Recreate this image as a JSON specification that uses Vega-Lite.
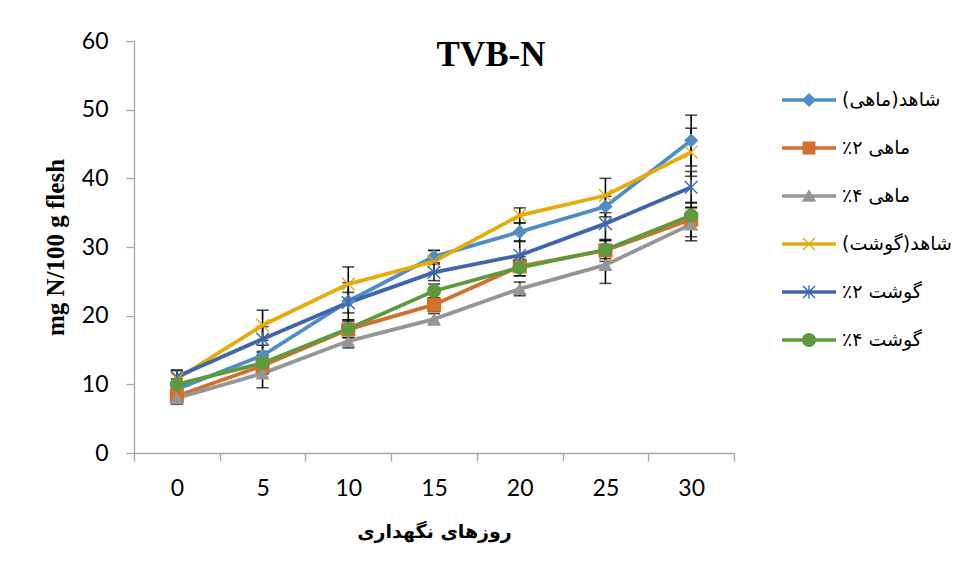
{
  "$schema": "https://vega.github.io/schema/vega-lite/v6.json",
  "width": 600,
  "height": 412,
  "autosize": {"type": "none"},
  "padding": {"left": 134, "top": 41, "right": 224, "bottom": 127},
  "background": "white",
  "config": {
    "view": {"stroke": null},
    "axis": {
      "grid": false,
      "domainColor": "#a6a6a6",
      "tickColor": "#a6a6a6",
      "domainWidth": 1.3,
      "tickWidth": 1.3,
      "tickSize": 8,
      "labelFont": "Lato",
      "labelFontSize": 23,
      "labelColor": "black",
      "titleColor": "black"
    }
  },
  "title": {
    "text": "TVB-N",
    "font": "Liberation Serif",
    "fontSize": 35,
    "fontWeight": "bold",
    "color": "black",
    "anchor": "middle",
    "dx": 57,
    "dy": 47
  },
  "data": {
    "values": [
      {"series": "شاهد(ماهی)", "day": 0, "mean": 9.3, "sd": 0.8},
      {"series": "شاهد(ماهی)", "day": 5, "mean": 14.2, "sd": 1.5},
      {"series": "شاهد(ماهی)", "day": 10, "mean": 22.1, "sd": 2.7},
      {"series": "شاهد(ماهی)", "day": 15, "mean": 28.6, "sd": 0.9},
      {"series": "شاهد(ماهی)", "day": 20, "mean": 32.2, "sd": 1.3},
      {"series": "شاهد(ماهی)", "day": 25, "mean": 35.9, "sd": 1.5},
      {"series": "شاهد(ماهی)", "day": 30, "mean": 45.5, "sd": 3.7},
      {"series": "٪۲ ماهی", "day": 0, "mean": 8.3, "sd": 0.9},
      {"series": "٪۲ ماهی", "day": 5, "mean": 12.7, "sd": 1.2},
      {"series": "٪۲ ماهی", "day": 10, "mean": 18.0, "sd": 1.2},
      {"series": "٪۲ ماهی", "day": 15, "mean": 21.6, "sd": 1.0},
      {"series": "٪۲ ماهی", "day": 20, "mean": 27.2, "sd": 1.4},
      {"series": "٪۲ ماهی", "day": 25, "mean": 29.5, "sd": 1.6},
      {"series": "٪۲ ماهی", "day": 30, "mean": 34.0, "sd": 2.5},
      {"series": "٪۴ ماهی", "day": 0, "mean": 8.0, "sd": 0.9},
      {"series": "٪۴ ماهی", "day": 5, "mean": 11.6, "sd": 2.1},
      {"series": "٪۴ ماهی", "day": 10, "mean": 16.3, "sd": 1.0},
      {"series": "٪۴ ماهی", "day": 15, "mean": 19.5, "sd": 0.8},
      {"series": "٪۴ ماهی", "day": 20, "mean": 23.9, "sd": 1.0},
      {"series": "٪۴ ماهی", "day": 25, "mean": 27.4, "sd": 2.7},
      {"series": "٪۴ ماهی", "day": 30, "mean": 33.3, "sd": 2.4},
      {"series": "شاهد(گوشت)", "day": 0, "mean": 10.8, "sd": 1.2},
      {"series": "شاهد(گوشت)", "day": 5, "mean": 18.6, "sd": 2.2},
      {"series": "شاهد(گوشت)", "day": 10, "mean": 24.6, "sd": 2.5},
      {"series": "شاهد(گوشت)", "day": 15, "mean": 27.9, "sd": 1.6},
      {"series": "شاهد(گوشت)", "day": 20, "mean": 34.6, "sd": 1.1},
      {"series": "شاهد(گوشت)", "day": 25, "mean": 37.5, "sd": 2.5},
      {"series": "شاهد(گوشت)", "day": 30, "mean": 43.8, "sd": 3.5},
      {"series": "٪۲ گوشت", "day": 0, "mean": 11.1, "sd": 1.0},
      {"series": "٪۲ گوشت", "day": 5, "mean": 16.6, "sd": 1.8},
      {"series": "٪۲ گوشت", "day": 10, "mean": 21.9, "sd": 1.5},
      {"series": "٪۲ گوشت", "day": 15, "mean": 26.3, "sd": 1.2},
      {"series": "٪۲ گوشت", "day": 20, "mean": 28.8, "sd": 2.0},
      {"series": "٪۲ گوشت", "day": 25, "mean": 33.4, "sd": 2.4},
      {"series": "٪۲ گوشت", "day": 30, "mean": 38.7, "sd": 2.3},
      {"series": "٪۴ گوشت", "day": 0, "mean": 10.0, "sd": 0.8},
      {"series": "٪۴ گوشت", "day": 5, "mean": 13.1, "sd": 1.5},
      {"series": "٪۴ گوشت", "day": 10, "mean": 18.1, "sd": 1.3},
      {"series": "٪۴ گوشت", "day": 15, "mean": 23.6, "sd": 1.0},
      {"series": "٪۴ گوشت", "day": 20, "mean": 27.0, "sd": 1.2},
      {"series": "٪۴ گوشت", "day": 25, "mean": 29.6, "sd": 1.3},
      {"series": "٪۴ گوشت", "day": 30, "mean": 34.6, "sd": 1.2}
    ]
  },
  "resolve": {
    "scale": {"color": "independent", "shape": "independent"}
  },
  "layer": [
    {
      "mark": {"type": "errorbar", "color": "black", "thickness": 1.6, "ticks": {"size": 12, "thickness": 1.6, "color": "black"}},
      "encoding": {
        "x": {"field": "day", "type": "quantitative", "scale": {"domain": [-2.5, 32.5], "nice": false, "zero": false},
          "axis": {"values": [-2.5, 0, 2.5, 5, 7.5, 10, 12.5, 15, 17.5, 20, 22.5, 25, 27.5, 30, 32.5], "labelOverlap": false, "labelExpr": "datum.value % 5 == 0 ? datum.label : ''", "tickOpacity": {"condition": {"test": "datum.value % 5 != 0", "value": 1}, "value": 0}, "labelPadding": 16, "title": "روزهای نگهداری", "titleFont": "DejaVu Sans", "titleFontSize": 19, "titleFontWeight": "bold", "titlePadding": 22}},
        "y": {"field": "mean", "type": "quantitative", "scale": {"domain": [0, 60], "nice": false},
          "axis": {"values": [0, 10, 20, 30, 40, 50, 60], "title": "mg N/100 g flesh", "titleFont": "Liberation Serif", "titleFontSize": 25, "titleFontWeight": "bold", "titlePadding": 13, "labelPadding": 18}},
        "yError": {"field": "sd"},
        "detail": {"field": "series", "type": "nominal"}
      }
    },
    {
      "mark": {"type": "line", "strokeWidth": 3.8},
      "encoding": {
        "x": {"field": "day", "type": "quantitative"},
        "y": {"field": "mean", "type": "quantitative"},
        "color": {"field": "series", "type": "nominal", "legend": null,
          "scale": {"domain": ["شاهد(ماهی)", "٪۲ ماهی", "٪۴ ماهی", "شاهد(گوشت)", "٪۲ گوشت", "٪۴ گوشت"],
            "range": ["#4f8ec5", "#d4702d", "#969696", "#e5ac0e", "#3f65af", "#5e9a3c"]}}
      }
    },
    {
      "mark": {"type": "point", "filled": true, "opacity": 1, "size": 200},
      "encoding": {
        "x": {"field": "day", "type": "quantitative"},
        "y": {"field": "mean", "type": "quantitative"},
        "color": {"field": "series", "type": "nominal", "legend": null,
          "scale": {"domain": ["شاهد(ماهی)", "٪۲ ماهی", "٪۴ ماهی", "شاهد(گوشت)", "٪۲ گوشت", "٪۴ گوشت"],
            "range": ["#4f8ec5", "#d4702d", "#969696", "#e5ac0e", "#3f65af", "#5e9a3c"]}},
        "shape": {"field": "series", "type": "nominal", "legend": null,
          "scale": {"domain": ["شاهد(ماهی)", "٪۲ ماهی", "٪۴ ماهی", "شاهد(گوشت)", "٪۲ گوشت", "٪۴ گوشت"],
            "range": [
              "diamond",
              "square",
              "triangle-up",
              "M-0.83,-0.97L0.97,0.83L0.83,0.97L-0.97,-0.83ZM-0.97,0.83L0.83,-0.97L0.97,-0.83L-0.83,0.97Z",
              "M-0.83,-0.97L0.97,0.83L0.83,0.97L-0.97,-0.83ZM-0.97,0.83L0.83,-0.97L0.97,-0.83L-0.83,0.97ZM-0.1,-1H0.1V1H-0.1Z",
              "circle"
            ]}}
      }
    },
    {
      "transform": [{"filter": "datum.day < 0"}],
      "mark": {"type": "point", "filled": true, "opacity": 1, "size": 2916},
      "encoding": {
        "color": {"field": "series", "type": "nominal",
          "scale": {"domain": ["شاهد(ماهی)", "٪۲ ماهی", "٪۴ ماهی", "شاهد(گوشت)", "٪۲ گوشت", "٪۴ گوشت"],
            "range": ["#4f8ec5", "#d4702d", "#969696", "#e5ac0e", "#3f65af", "#5e9a3c"]},
          "legend": {"title": null, "orient": "none", "legendX": 648, "legendY": 32, "symbolSize": 2916, "symbolStrokeWidth": 0, "symbolOpacity": 1,
            "labelFont": "DejaVu Sans", "labelFontSize": 19, "labelColor": "black", "labelOffset": 6, "rowPadding": 11, "padding": 0}},
        "shape": {"field": "series", "type": "nominal",
          "scale": {"domain": ["شاهد(ماهی)", "٪۲ ماهی", "٪۴ ماهی", "شاهد(گوشت)", "٪۲ گوشت", "٪۴ گوشت"],
            "range": [
              "M-1,-0.065H1V0.065H-1ZM0,-0.26L0.26,0L0,0.26L-0.26,0Z",
              "M-1,-0.065H1V0.065H-1ZM-0.24,-0.24H0.24V0.24H-0.24Z",
              "M-1,-0.065H1V0.065H-1ZM0,-0.25L0.27,0.21L-0.27,0.21Z",
              "M-1,-0.065H1V0.065H-1ZM-0.202,-0.238L0.238,0.202L0.202,0.238L-0.238,-0.202ZM-0.238,0.202L0.202,-0.238L0.238,-0.202L-0.202,0.238Z",
              "M-1,-0.065H1V0.065H-1ZM-0.202,-0.238L0.238,0.202L0.202,0.238L-0.238,-0.202ZM-0.238,0.202L0.202,-0.238L0.238,-0.202L-0.202,0.238ZM-0.026,-0.24H0.026V0.24H-0.026Z",
              "M-1,-0.065H1V0.065H-1ZM-0.26,0A0.26,0.26 0 1,1 0.26,0A0.26,0.26 0 1,1 -0.26,0Z"
            ]},
          "legend": {"title": null, "orient": "none", "legendX": 648, "legendY": 32, "symbolSize": 2916, "symbolStrokeWidth": 0, "symbolOpacity": 1,
            "labelFont": "DejaVu Sans", "labelFontSize": 19, "labelColor": "black", "labelOffset": 6, "rowPadding": 11, "padding": 0}}
      }
    }
  ]
}
